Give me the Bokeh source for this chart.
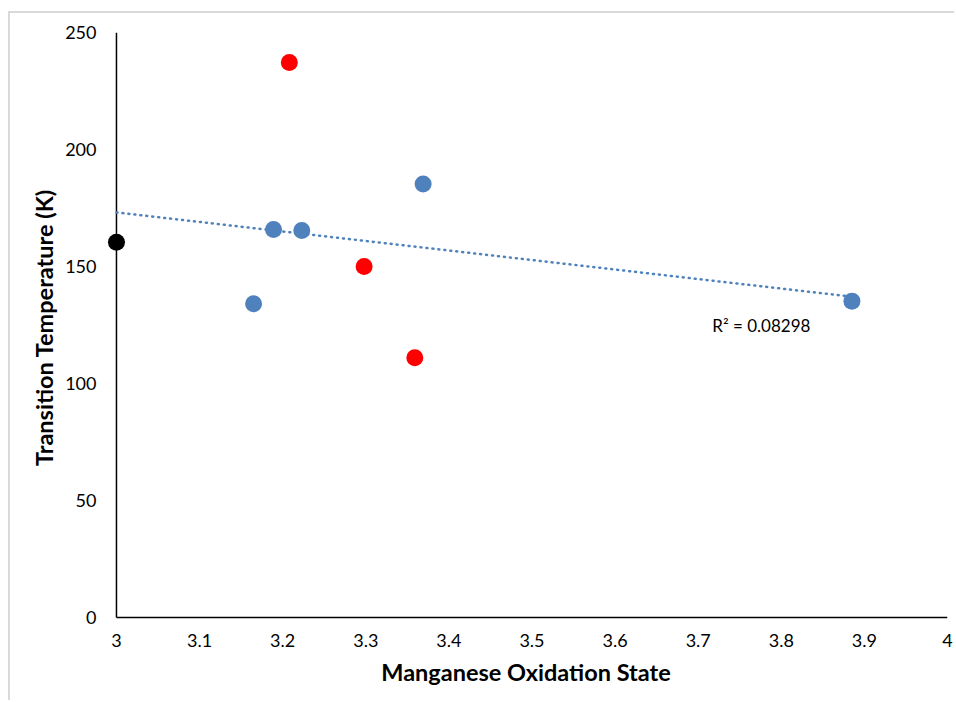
from bokeh.plotting import figure
from bokeh.models import Range1d, FixedTicker, Label
from bokeh.embed import file_html
from bokeh.resources import INLINE

# Transition temperature vs. manganese oxidation state
blue_x = [3.165, 3.189, 3.223, 3.369, 3.885]
blue_y = [134.1, 165.8, 165.4, 185.3, 135.2]
red_x = [3.208, 3.298, 3.359]
red_y = [237.2, 150.0, 111.0]
black_x = [3.0]
black_y = [160.4]

# linear trendline endpoints and its fit statistic
trend_x = [3.0, 3.885]
trend_y = [173.1, 137.1]
r_squared = "R\u00b2 = 0.08298"

x_ticks = [3.0, 3.1, 3.2, 3.3, 3.4, 3.5, 3.6, 3.7, 3.8, 3.9, 4.0]
x_tick_labels = ["3", "3.1", "3.2", "3.3", "3.4", "3.5", "3.6", "3.7", "3.8", "3.9", "4"]
y_ticks = [0, 50, 100, 150, 200, 250]

X_MIN, X_MAX = 3.0, 4.0
Y_MIN, Y_MAX = 0, 250

FONT = "Lato"
BLUE = "#4F81BD"

p = figure(
    width=946, height=689,
    x_range=Range1d(X_MIN - 0.0144, X_MAX),
    y_range=Range1d(Y_MIN - 2.14, Y_MAX),
    output_backend="svg", toolbar_location=None,
    min_border_left=94, min_border_right=9, min_border_top=19, min_border_bottom=80,
    margin=(11, 0, 0, 8),
)
p.styles = {"border-top": "2px solid #d9d9d9", "border-left": "2px solid #d9d9d9"}
p.outline_line_color = None
p.grid.visible = False
p.background_fill_color = "white"
p.border_fill_color = "white"

# axes: ticks and labels only, lines are drawn as segments below
for ax in (p.xaxis[0], p.yaxis[0]):
    ax.axis_line_color = None
    ax.major_tick_line_color = None
    ax.minor_tick_line_color = None
    ax.major_label_text_font = FONT
    ax.major_label_text_font_size = "18px"
    ax.major_label_text_color = "#000000"
    ax.axis_label_text_font = FONT
    ax.axis_label_text_font_style = "bold"
    ax.axis_label_text_font_size = "23.5px"
    ax.axis_label_text_color = "#000000"

p.xaxis.ticker = FixedTicker(ticks=x_ticks)
p.xaxis.major_label_overrides = {t: s for t, s in zip(x_ticks, x_tick_labels)}
p.xaxis.major_label_standoff = 5
p.xaxis.axis_label = "Manganese Oxidation State"
p.xaxis.axis_label_standoff = 8

p.yaxis.ticker = FixedTicker(ticks=y_ticks)
p.yaxis.major_label_standoff = 2
p.yaxis.axis_label = "Transition Temperature (K)"
p.yaxis.axis_label_standoff = 4

# axis lines
p.segment(x0=[X_MIN, X_MIN], y0=[Y_MIN, Y_MIN], x1=[X_MAX, X_MIN], y1=[Y_MIN, Y_MAX],
          line_color="black", line_width=1.5)

# dotted trendline
p.line(trend_x, trend_y, line_color=BLUE, line_width=2.5, line_dash="1 5", line_cap="round")

p.scatter(blue_x, blue_y, size=17, fill_color=BLUE, line_color=None)
p.scatter(red_x, red_y, size=17, fill_color="#FF0000", line_color=None)
p.scatter(black_x, black_y, size=17, fill_color="#000000", line_color=None)

p.add_layout(Label(x=3.717, y=124.8, text=r_squared, text_font=FONT, text_font_size="17px",
                   text_color="#000000", text_baseline="middle", text_align="left"))

open("out.html", "w").write(file_html(p, INLINE))
